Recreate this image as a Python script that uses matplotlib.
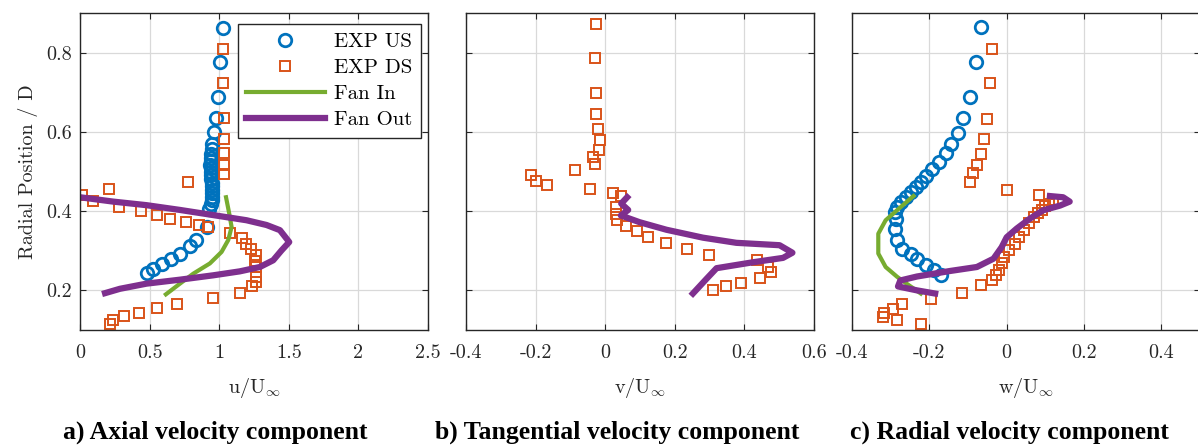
import matplotlib
matplotlib.use("Agg")
import matplotlib.pyplot as plt

# ---- data (radial position r/D vs. velocity ratio) ----
# a) axial
a_us_u = [1.025, 1.006, 0.990, 0.975, 0.960, 0.950, 0.946, 0.942, 0.940, 0.938, 0.937, 0.938,
          0.940, 0.942, 0.944, 0.946, 0.948, 0.950, 0.950, 0.948, 0.945, 0.940, 0.930,
          0.910, 0.836, 0.790, 0.718, 0.655, 0.587, 0.525, 0.478]
a_us_r = [0.862, 0.777, 0.687, 0.634, 0.599, 0.570, 0.556, 0.545, 0.535, 0.526, 0.517, 0.508,
          0.499, 0.490, 0.481, 0.472, 0.463, 0.454, 0.445, 0.436, 0.427, 0.418, 0.405,
          0.360, 0.327, 0.311, 0.293, 0.280, 0.266, 0.255, 0.244]
a_ds_u = [1.025, 1.025, 1.037, 1.037, 1.034, 1.034, 1.034, 0.773, 0.211, 0.012, 0.096, 0.280,
          0.436, 0.551, 0.646, 0.761, 0.857, 0.917, 1.077, 1.161, 1.196, 1.232, 1.263, 1.260,
          1.261, 1.263, 1.261, 1.237, 1.148, 0.957, 0.694, 0.550, 0.426, 0.318, 0.239, 0.215]
a_ds_r = [0.809, 0.724, 0.634, 0.583, 0.546, 0.516, 0.494, 0.473, 0.455, 0.440, 0.425, 0.411,
          0.400, 0.390, 0.381, 0.373, 0.365, 0.359, 0.345, 0.331, 0.316, 0.305, 0.289, 0.275,
          0.259, 0.234, 0.221, 0.210, 0.194, 0.180, 0.166, 0.155, 0.144, 0.135, 0.126, 0.116]
a_in_u = [1.049, 1.072, 1.089, 1.065, 1.017, 0.933, 0.813, 0.718, 0.617]
a_in_r = [0.435, 0.394, 0.360, 0.327, 0.297, 0.268, 0.242, 0.217, 0.190]
a_out_u = [0.0, 0.239, 0.478, 0.718, 0.957, 1.196, 1.340, 1.436, 1.503, 1.448, 1.388, 1.292,
           1.148, 0.957, 0.718, 0.478, 0.287, 0.180]
a_out_r = [0.435, 0.424, 0.415, 0.403, 0.390, 0.377, 0.365, 0.352, 0.322, 0.301, 0.276, 0.259,
           0.248, 0.238, 0.227, 0.217, 0.204, 0.193]

# b) tangential
b_ds_v = [-0.027, -0.029, -0.027, -0.025, -0.021, -0.016, -0.019, -0.035, -0.030, -0.212,
          -0.198, -0.167, -0.088, -0.045, 0.021, 0.045, 0.032, 0.032, 0.035, 0.059, 0.092,
          0.123, 0.174, 0.236, 0.298, 0.436, 0.468, 0.476, 0.444, 0.389, 0.346, 0.310]
b_ds_r = [0.872, 0.787, 0.697, 0.645, 0.608, 0.580, 0.555, 0.536, 0.518, 0.490,
          0.477, 0.466, 0.503, 0.455, 0.445, 0.437, 0.410, 0.393, 0.378, 0.362, 0.351,
          0.334, 0.320, 0.305, 0.290, 0.276, 0.259, 0.246, 0.232, 0.219, 0.210, 0.200]
b_out_v = [0.063, 0.046, 0.066, 0.045, 0.099, 0.176, 0.281, 0.377, 0.501, 0.538, 0.511,
           0.425, 0.320, 0.291, 0.252]
b_out_r = [0.435, 0.419, 0.403, 0.389, 0.372, 0.353, 0.333, 0.320, 0.314, 0.295, 0.282,
           0.271, 0.256, 0.229, 0.192]

# c) radial
c_us_w = [-0.067, -0.079, -0.095, -0.112, -0.126, -0.144, -0.158, -0.176, -0.193, -0.209,
          -0.222, -0.235, -0.248, -0.261, -0.274, -0.283, -0.289, -0.287, -0.289, -0.283,
          -0.270, -0.248, -0.231, -0.209, -0.188, -0.171]
c_us_r = [0.864, 0.777, 0.687, 0.635, 0.598, 0.569, 0.546, 0.524, 0.506, 0.489,
          0.474, 0.462, 0.449, 0.436, 0.424, 0.411, 0.398, 0.381, 0.356, 0.328,
          0.305, 0.293, 0.280, 0.263, 0.251, 0.238]
c_ds_w = [-0.039, -0.043, -0.050, -0.058, -0.066, -0.076, -0.087, -0.096, 0.002, 0.083,
          0.109, 0.091, 0.071, 0.058, 0.045, 0.032, 0.022, 0.006, -0.007, -0.013, -0.020,
          -0.028, -0.039, -0.067, -0.115, -0.195, -0.270, -0.294, -0.317, -0.320, -0.284,
          -0.222, 0.120, 0.100, 0.080]
c_ds_r = [0.809, 0.723, 0.633, 0.582, 0.545, 0.516, 0.495, 0.473, 0.454, 0.441,
          0.418, 0.403, 0.386, 0.369, 0.352, 0.335, 0.318, 0.301, 0.284, 0.268, 0.251,
          0.238, 0.227, 0.213, 0.194, 0.179, 0.166, 0.154, 0.143, 0.134, 0.126,
          0.116, 0.428, 0.412, 0.395]
c_in_w = [-0.241, -0.278, -0.313, -0.332, -0.332, -0.313, -0.283, -0.253, -0.222]
c_in_r = [0.438, 0.407, 0.377, 0.343, 0.293, 0.259, 0.234, 0.213, 0.192]
c_out_w = [-0.185, -0.232, -0.281, -0.275, -0.232, -0.146, -0.077, -0.034, -0.013, 0.000,
           0.026, 0.060, 0.094, 0.138, 0.163, 0.146, 0.112]
c_out_r = [0.192, 0.200, 0.210, 0.225, 0.235, 0.249, 0.259, 0.280, 0.309, 0.334,
           0.356, 0.381, 0.402, 0.414, 0.424, 0.435, 0.438]

xlabels = [r'u/U$_\infty$', r'v/U$_\infty$', r'w/U$_\infty$']
captions = ['a) Axial velocity component', 'b) Tangential velocity component',
            'c) Radial velocity component']

# MATLAB default colours
blue, orange, green, purple = '#0072BD', '#D95319', '#77AC30', '#7E2F8E'
grey = '#262626'

plt.rcParams['font.family'] = 'cmr10'
plt.rcParams['mathtext.fontset'] = 'cm'
plt.rcParams['axes.unicode_minus'] = False
plt.rcParams['axes.formatter.use_mathtext'] = False

fs = 14.5
fig = plt.figure(figsize=(11.98, 4.45), dpi=100)
lefts = [80 / 1198, 466 / 1198, 852 / 1198]
w, b, h = 348 / 1198, 1 - 330 / 445, 317 / 445
axes = [fig.add_axes([l, b, w, h]) for l in lefts]

us_kw = dict(ls='none', marker='o', ms=9, mfc='none', mec=blue, mew=2.0)
ds_kw = dict(ls='none', marker='s', ms=7, mfc='none', mec=orange, mew=1.4)

ax = axes[0]
ax.plot(a_us_u, a_us_r, label='EXP US', **us_kw)
ax.plot(a_ds_u, a_ds_r, label='EXP DS', **ds_kw)
ax.plot(a_in_u, a_in_r, color=green, lw=3, label='Fan In')
ax.plot(a_out_u, a_out_r, color=purple, lw=4.5, label='Fan Out')
ax.set_xlim(0, 2.5)
ax.set_xticks([0, 0.5, 1, 1.5, 2, 2.5])
ax.set_xticklabels(['0', '0.5', '1', '1.5', '2', '2.5'])
ax.set_ylabel('Radial Position / D', color=grey, fontsize=fs, labelpad=6)
leg = ax.legend(loc='upper right', bbox_to_anchor=(0.98, 0.965), fontsize=fs + 0.5,
                handlelength=3.8, frameon=True, fancybox=False, borderpad=0.4,
                labelspacing=0.36, handletextpad=0.45, borderaxespad=0)
leg.get_frame().set_edgecolor(grey)
leg.get_frame().set_linewidth(1.0)
leg.get_frame().set_alpha(1)

ax = axes[1]
ax.plot(b_ds_v, b_ds_r, **ds_kw)
ax.plot(b_out_v, b_out_r, color=purple, lw=4.5)
ax.set_xlim(-0.4, 0.6)
ax.set_xticks([-0.4, -0.2, 0, 0.2, 0.4, 0.6])
ax.set_xticklabels(['-0.4', '-0.2', '0', '0.2', '0.4', '0.6'])

ax = axes[2]
ax.plot(c_us_w, c_us_r, **us_kw)
ax.plot(c_ds_w, c_ds_r, **ds_kw)
ax.plot(c_in_w, c_in_r, color=green, lw=3)
ax.plot(c_out_w, c_out_r, color=purple, lw=4.5)
ax.set_xlim(-0.4, 0.5)
ax.set_xticks([-0.4, -0.2, 0, 0.2, 0.4])
ax.set_xticklabels(['-0.4', '-0.2', '0', '0.2', '0.4'])

for i, ax in enumerate(axes):
    ax.set_ylim(0.1, 0.9)
    ax.set_yticks([0.2, 0.4, 0.6, 0.8])
    if i == 0:
        ax.set_yticklabels(['0.2', '0.4', '0.6', '0.8'])
    else:
        ax.set_yticklabels([])
    ax.grid(True, color='#d9d9d9', lw=0.9)
    ax.set_axisbelow(True)
    ax.tick_params(direction='in', top=True, right=True, length=4, width=0.8,
                   colors=grey, labelsize=fs)
    ax.tick_params(axis='x', pad=10)
    ax.tick_params(axis='y', pad=6)
    for s in ax.spines.values():
        s.set_color(grey)
        s.set_linewidth(1.0)
    ax.set_xlabel(xlabels[i], color=grey, fontsize=fs, labelpad=10)

cap_x = [63, 435, 850]
for x, txt in zip(cap_x, captions):
    fig.text(x / 1198, 1 - 432 / 445, txt, ha='left', va='center',
             family='Liberation Serif', weight='bold', fontsize=18.5, color='black')

fig.savefig('out.png', dpi=100)
